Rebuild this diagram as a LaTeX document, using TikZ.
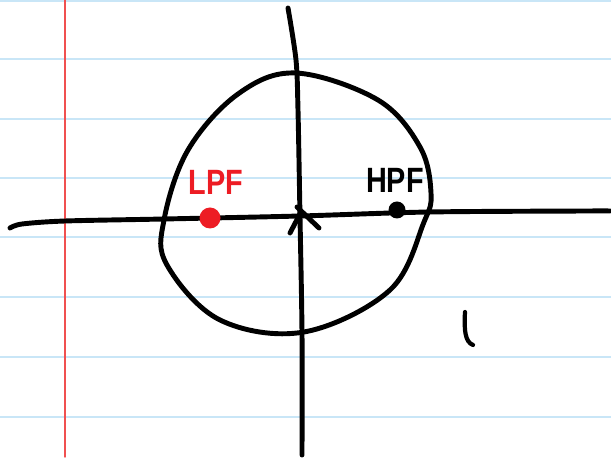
\documentclass[tikz,border=0pt]{standalone}
\usepackage{fontspec}
\setsansfont{Liberation Sans}
\usepackage{xcolor}
\definecolor{Ink}{HTML}{000000}
\definecolor{Rule}{HTML}{C9E6F7}
\definecolor{Margin}{HTML}{F05050}
\definecolor{Pole}{HTML}{ED1C24}
\begin{document}
\begin{tikzpicture}[x=0.03cm,y=-0.03cm,line cap=round,line join=round,
  pen/.style={Ink,line width=4.2pt},
  ruleline/.style={Rule,line width=1.6pt},
  dotmark/.style={circle,inner sep=0pt,minimum size=#1},
  tag/.style={font=\sffamily\bfseries\fontsize{30}{30}\selectfont,xscale=0.82,inner sep=0pt}]
\useasboundingbox (0,0) rectangle (611,458);
% notebook paper
\fill[white] (0,0) rectangle (611,458);
\draw[ruleline] (0,1) -- (611,1);
\draw[ruleline] (0,59) -- (611,59);
\draw[ruleline] (0,119) -- (611,119);
\draw[ruleline] (0,178) -- (611,178);
\draw[ruleline] (0,237) -- (611,237);
\draw[ruleline] (0,297) -- (611,297);
\draw[ruleline] (0,357) -- (611,357);
\draw[ruleline] (0,417) -- (611,417);
\draw[Margin,line width=1.2pt] (65,0) -- (65,457);
% axes
\draw[pen] plot[smooth] coordinates {(10,228) (22,224) (65,221) (164,219) (300,216) (429,212) (585,211) (610,211)};
\draw[pen] plot[smooth] coordinates {(288,8) (296,60) (298,110) (300,217) (302,333) (302,455)};
% unit circle
\draw[pen] plot[smooth cycle,tension=0.6] coordinates {(296,73) (378,100) (420,147) (431,193) (424,222) (390,290) (304,332) (220,320) (167,265) (164,220) (188,150) (238,94)};
% zero at origin
\draw[pen] (290,233) -- (301,212);
\draw[pen] (297,207) -- (319,228);
% poles
\node[dotmark=6.3mm,fill=Pole] (lpf) at (210,218) {};
\node[dotmark=5.1mm,fill=Ink] (hpf) at (397,210) {};
\node[tag,text=Pole] (lpflabel) at (216,182) {LPF};
\node[tag,text=Ink] (hpflabel) at (395,180) {HPF};
% stray mark
\draw[pen,line width=3.6pt] (465,312) .. controls (464,330) and (465,342) .. (473,345);
\end{tikzpicture}
\end{document}
